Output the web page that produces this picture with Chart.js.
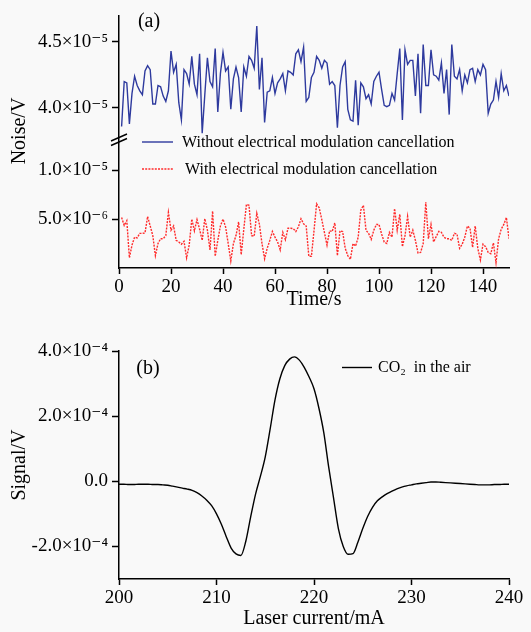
<!DOCTYPE html>
<html>
<head>
<meta charset="utf-8">
<script src="https://cdn.jsdelivr.net/npm/chart.js@4.4.0/dist/chart.umd.min.js"></script>
<style>
  html, body { margin: 0; padding: 0; background: #f9f9f9; }
  #wrap { position: relative; width: 531px; height: 632px; overflow: hidden; background: #f9f9f9; }
  .pane { position: absolute; left: 0; width: 531px; }
  #pa { top: 0; height: 316px; }
  #pb { top: 316px; height: 316px; }
  canvas { display: block; }
</style>
</head>
<body>
<div id="wrap">
  <div class="pane" id="pa"><canvas id="ca" width="531" height="316"></canvas></div>
  <div class="pane" id="pb"><canvas id="cb" width="531" height="316"></canvas></div>
</div>
<script>
// ---------------- Panel (a) data ----------------
const timeS = Array.from({ length: 150 }, (_, i) => i + 1);   // sampling grid, 1 s steps

// Noise without electrical modulation cancellation (units of 1e-5 V)
const noiseWithout_e5 = [
  3.86,4.20,4.19,3.88,4.11,4.24,4.17,4.13,4.10,4.28,
  4.32,4.29,4.03,4.03,4.17,4.16,4.09,4.05,4.13,4.43,
  4.27,4.33,4.04,3.91,4.29,4.26,4.18,4.39,4.18,4.10,
  4.41,3.81,4.10,4.38,4.20,4.16,4.45,3.97,4.26,4.42,
  4.28,4.31,3.99,4.22,4.31,4.23,3.97,4.31,4.24,4.39,
  4.36,4.30,4.62,4.14,4.38,3.89,4.12,4.13,4.23,4.11,
  4.19,4.22,4.26,4.13,4.28,4.27,4.25,4.41,4.44,4.35,
  4.46,4.05,4.08,4.23,4.27,4.39,4.36,4.30,4.36,4.34,
  4.18,4.20,4.17,3.85,4.17,4.31,4.35,3.99,3.91,3.90,
  4.21,3.87,4.19,4.16,4.07,4.10,4.03,4.20,4.24,4.27,
  4.14,4.02,4.01,4.02,4.11,4.06,4.26,4.45,3.91,4.44,
  4.33,4.36,4.36,4.09,4.41,3.96,4.48,4.17,4.17,4.44,
  4.25,4.24,4.21,4.34,4.11,4.29,3.95,4.48,4.24,4.22,
  4.29,4.13,4.25,4.19,4.29,4.30,4.20,4.29,4.25,4.33,
  4.29,3.96,4.03,4.06,4.20,4.08,4.26,4.13,4.17,4.09
];

// Noise with electrical modulation cancellation (units of 1e-6 V)
const noiseWith_e6 = [
  5.16,4.35,4.84,1.04,2.34,3.15,3.08,3.54,3.54,3.57,
  5.26,4.29,3.31,1.27,2.50,2.99,2.99,3.31,5.68,3.86,
  4.29,2.82,2.66,2.43,2.73,1.04,2.34,5.00,3.80,4.94,
  3.96,2.82,5.03,3.86,1.85,5.81,1.20,2.82,4.29,5.00,
  4.19,2.50,0.71,2.50,3.31,4.71,1.36,3.96,6.49,6.40,
  3.31,3.25,5.58,4.45,2.50,0.94,2.01,2.82,3.73,3.15,
  2.66,1.85,3.64,2.89,4.06,4.06,4.03,3.73,4.19,5.03,
  4.51,4.29,1.20,1.20,3.80,6.56,6.14,4.94,3.64,2.34,
  3.80,3.73,4.61,1.27,3.80,3.73,2.01,1.27,0.88,2.50,
  2.24,3.15,5.91,6.40,3.86,3.54,2.92,3.86,4.45,4.45,
  3.47,2.66,2.50,3.64,3.15,6.07,3.86,5.49,2.18,3.31,
  5.26,3.15,3.86,2.82,1.53,1.59,2.50,6.72,2.99,4.45,
  2.66,3.21,3.73,3.64,3.15,2.99,2.99,2.82,3.54,3.47,
  2.01,2.43,3.15,4.29,4.06,2.11,4.29,2.01,0.81,2.43,
  2.18,1.59,1.46,2.56,0.55,2.99,3.96,4.45,5.16,2.99
];

const seriesNamesA = ['Without electrical modulation cancellation', 'With electrical modulation cancellation'];
const xTicksA = [0, 20, 40, 60, 80, 100, 120, 140];
const yTicksTop = [4.0e-5, 4.5e-5];
const yLabelsTop = ['4.0×10⁻⁵', '4.5×10⁻⁵'];
const yTicksBot = [5.0e-6, 1.0e-5];
const yLabelsBot = ['5.0×10⁻⁶', '1.0×10⁻⁵'];

// ---------------- Panel (b) data ----------------
const laserCurrent_mA = [
  200.0,200.5,201.0,201.5,202.0,202.5,203.0,203.5,204.0,204.5,
  205.0,205.5,206.0,206.5,207.0,207.5,208.0,208.5,209.0,209.5,
  210.0,210.5,211.0,211.5,212.0,212.5,213.0,213.5,214.0,214.5,
  215.0,215.5,216.0,216.5,217.0,217.5,218.0,218.5,219.0,219.5,
  220.0,220.5,221.0,221.5,222.0,222.5,223.0,223.5,224.0,224.5,
  225.0,225.5,226.0,226.5,227.0,227.5,228.0,228.5,229.0,229.5,
  230.0,230.5,231.0,231.5,232.0,232.5,233.0,233.5,234.0,234.5,
  235.0,235.5,236.0,236.5,237.0,237.5,238.0,238.5,239.0,239.5,240.0
];
// Signal (units of 1e-4 V)
const signal_e4 = [
  -0.09,-0.09,-0.10,-0.10,-0.09,-0.09,-0.09,-0.10,-0.10,-0.11,
  -0.12,-0.15,-0.18,-0.21,-0.24,-0.28,-0.35,-0.45,-0.58,-0.75,
  -1.00,-1.32,-1.70,-2.05,-2.23,-2.28,-1.85,-1.10,-0.40,0.15,
  0.75,1.60,2.50,3.15,3.55,3.75,3.82,3.72,3.50,3.20,
  2.84,2.25,1.50,0.45,-0.50,-1.45,-2.00,-2.24,-2.22,-1.87,
  -1.45,-1.08,-0.80,-0.60,-0.48,-0.38,-0.30,-0.23,-0.18,-0.14,
  -0.11,-0.08,-0.06,-0.04,-0.02,-0.02,-0.03,-0.04,-0.05,-0.06,
  -0.07,-0.08,-0.09,-0.10,-0.11,-0.11,-0.11,-0.10,-0.10,-0.09,-0.09
];
const seriesNameB = 'CO₂  in the air';
const xTicksB = [200, 210, 220, 230, 240];
const yTicksB = [-2.0e-4, 0, 2.0e-4, 4.0e-4];
const yLabelsB = ['-2.0×10⁻⁴', '0.0', '2.0×10⁻⁴', '4.0×10⁻⁴'];

// ---------------- helpers ----------------
const FONT = "'Liberation Serif', 'Times New Roman', 'DejaVu Serif', serif";
Chart.defaults.font.family = FONT;
Chart.defaults.color = '#000';
const BLUE = '#2e3a9e';
const RED = '#ff2b2b';

function labelFrom(vals, labels) {
  return (v) => {
    const i = vals.findIndex(t => Math.abs(t - v) < Math.abs(t) * 1e-6 + 1e-15);
    return i >= 0 ? labels[i] : '';
  };
}
function fixedTicks(vals) {
  return (s) => { s.ticks = vals.map(v => ({ value: v })); };
}
const gridOpts = { drawOnChartArea: false, drawTicks: true, tickLength: 7, tickColor: '#000', tickWidth: 1.5 };
const borderOpts = { display: true, color: '#000', width: 1.5 };
const tickFont = { size: 19 };

// ---------------- decorations (panel labels, legends, break marks) ----------------
const decorA = {
  id: 'decorA',
  afterDraw(chart) {
    const ctx = chart.ctx;
    ctx.save();
    ctx.fillStyle = '#000';
    ctx.textBaseline = 'middle';
    ctx.font = '20px ' + FONT;
    ctx.textAlign = 'center';
    ctx.fillText('(a)', 149, 22);
    // y title
    ctx.save();
    ctx.translate(20, 131);
    ctx.rotate(-Math.PI / 2);
    ctx.fillText('Noise/V', 0, 0);
    ctx.restore();
    // legend
    ctx.textAlign = 'left';
    ctx.font = '16px ' + FONT;
    ctx.lineWidth = 1.4;
    ctx.strokeStyle = BLUE;
    ctx.beginPath(); ctx.moveTo(142, 142); ctx.lineTo(173, 142); ctx.stroke();
    ctx.fillText(seriesNamesA[0], 182, 143);
    ctx.strokeStyle = RED;
    ctx.setLineDash([2, 1.2]);
    ctx.beginPath(); ctx.moveTo(142, 169); ctx.lineTo(173, 169); ctx.stroke();
    ctx.setLineDash([]);
    ctx.fillText(seriesNamesA[1], 185, 170);
    // axis break marks
    ctx.strokeStyle = '#000';
    ctx.lineWidth = 1.4;
    ctx.beginPath();
    ctx.moveTo(111, 141); ctx.lineTo(127, 134);
    ctx.moveTo(111, 145.5); ctx.lineTo(127, 138.5);
    ctx.stroke();
    ctx.restore();
  }
};
const decorB = {
  id: 'decorB',
  afterDraw(chart) {
    const ctx = chart.ctx;
    ctx.save();
    ctx.fillStyle = '#000';
    ctx.textBaseline = 'middle';
    ctx.font = '20px ' + FONT;
    ctx.textAlign = 'center';
    ctx.fillText('(b)', 148, 53);
    ctx.textAlign = 'left';
    ctx.font = '16px ' + FONT;
    ctx.strokeStyle = '#000';
    ctx.lineWidth = 1.4;
    ctx.beginPath(); ctx.moveTo(342, 51.5); ctx.lineTo(372, 51.5); ctx.stroke();
    ctx.fillText(seriesNameB, 378, 52);
    ctx.restore();
  }
};

// ---------------- Chart (a) ----------------
new Chart(document.getElementById('ca'), {
  type: 'line',
  data: {
    datasets: [
      {
        label: seriesNamesA[0],
        data: timeS.map((t, i) => ({ x: t, y: noiseWithout_e5[i] * 1e-5 })),
        yAxisID: 'yTop',
        borderColor: BLUE, borderWidth: 1.4, pointRadius: 0, tension: 0, fill: false
      },
      {
        label: seriesNamesA[1],
        data: timeS.map((t, i) => ({ x: t, y: noiseWith_e6[i] * 1e-6 })),
        yAxisID: 'yBot',
        borderColor: RED, borderWidth: 1.4, borderDash: [2, 1.2], pointRadius: 0, tension: 0, fill: false
      }
    ]
  },
  options: {
    responsive: false,
    animation: false,
    layout: { padding: { top: 7, right: 22, left: 0, bottom: 0 } },
    plugins: { legend: { display: false }, tooltip: { enabled: false } },
    scales: {
      x: {
        type: 'linear', min: 0, max: 150,
        afterBuildTicks: fixedTicks(xTicksA),
        afterFit: (s) => { s.height = 48; },
        grid: { ...gridOpts, tickLength: 6 },
        border: borderOpts,
        ticks: { font: tickFont, color: '#000', padding: 2, maxRotation: 0, autoSkip: false, callback: (v) => String(v) },
        title: { display: true, text: 'Time/s', font: { size: 20 }, color: '#000', padding: { top: 0, bottom: 4 } }
      },
      yBot: {
        type: 'linear', position: 'left', stack: 'noise', stackWeight: 1,
        min: 0, max: 1.29e-5,
        afterBuildTicks: fixedTicks(yTicksBot),
        afterFit: (s) => { s.width = 119; },
        grid: gridOpts, border: borderOpts,
        ticks: { font: tickFont, color: '#000', padding: 4, callback: labelFrom(yTicksBot, yLabelsBot) }
      },
      yTop: {
        type: 'linear', position: 'left', stack: 'noise', stackWeight: 1,
        min: 3.745e-5, max: 4.70e-5,
        afterBuildTicks: fixedTicks(yTicksTop),
        afterFit: (s) => { s.width = 119; },
        grid: gridOpts, border: borderOpts,
        ticks: { font: tickFont, color: '#000', padding: 4, callback: labelFrom(yTicksTop, yLabelsTop) }
      }
    }
  },
  plugins: [decorA]
});

// ---------------- Chart (b) ----------------
new Chart(document.getElementById('cb'), {
  type: 'line',
  data: {
    datasets: [{
      label: seriesNameB,
      data: laserCurrent_mA.map((c, i) => ({ x: c, y: signal_e4[i] * 1e-4 })),
      borderColor: '#000', borderWidth: 1.4, pointRadius: 0,
      cubicInterpolationMode: 'monotone', fill: false
    }]
  },
  options: {
    responsive: false,
    animation: false,
    layout: { padding: { top: 35, right: 22, left: 0, bottom: 0 } },
    plugins: { legend: { display: false }, tooltip: { enabled: false } },
    scales: {
      x: {
        type: 'linear', min: 200, max: 240,
        afterBuildTicks: fixedTicks(xTicksB),
        afterFit: (s) => { s.height = 53; },
        grid: { ...gridOpts, tickLength: 6 },
        border: borderOpts,
        ticks: { font: tickFont, color: '#000', padding: 2, maxRotation: 0, autoSkip: false, callback: (v) => String(v) },
        title: { display: true, text: 'Laser current/mA', font: { size: 20 }, color: '#000', padding: { top: 0, bottom: 1 } }
      },
      y: {
        type: 'linear', position: 'left',
        min: -3.0e-4, max: 4.0e-4,
        afterBuildTicks: fixedTicks(yTicksB),
        afterFit: (s) => { s.width = 119; },
        grid: gridOpts, border: borderOpts,
        ticks: { font: tickFont, color: '#000', padding: 4, callback: labelFrom(yTicksB, yLabelsB) },
        title: { display: true, text: 'Signal/V', font: { size: 20 }, color: '#000', padding: { top: 8, bottom: 0 } }
      }
    }
  },
  plugins: [decorB]
});
</script>
</body>
</html>
